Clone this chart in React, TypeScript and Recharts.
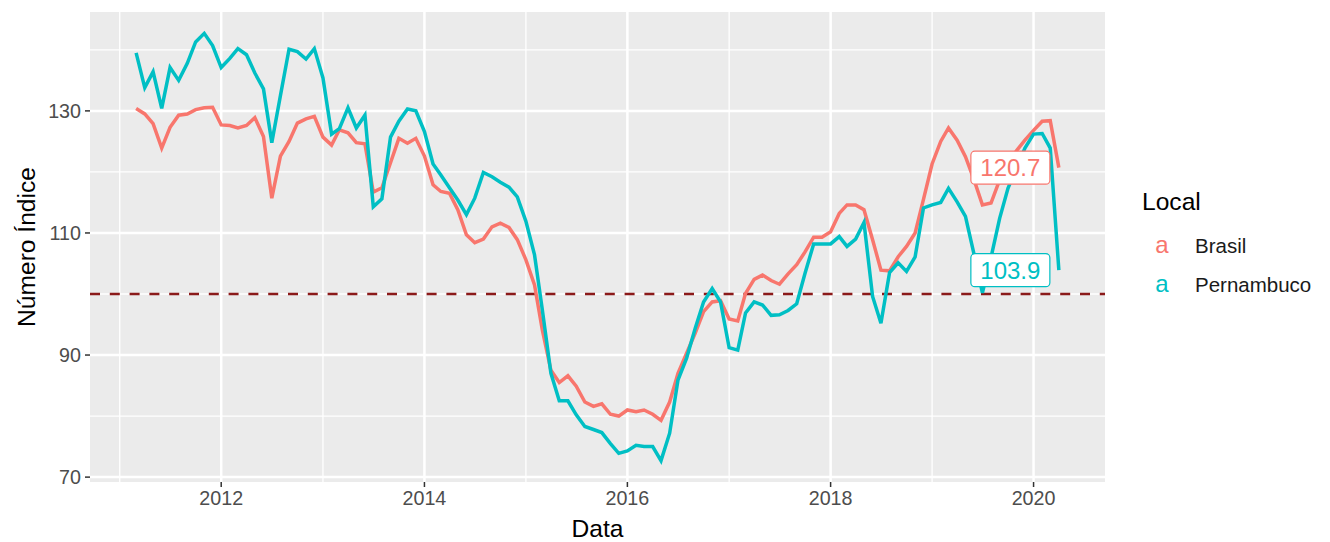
import { LineChart, Line, XAxis, YAxis, CartesianGrid, ReferenceLine } from "recharts";

// monthly series, starting 2011-03
const startYear = 2011;
const startMonth = 3;

const brasil = [
  130.4, 129.5, 127.9, 123.9, 127.3, 129.3, 129.5, 130.2, 130.5, 130.6,
  127.7, 127.6, 127.2, 127.6, 128.9, 125.8, 115.7, 122.6, 125.0, 128.0,
  128.7, 129.1, 125.7, 124.4, 126.9, 126.4, 124.8, 124.6, 116.7, 117.4,
  121.5, 125.5, 124.7, 125.5, 122.6, 117.9, 116.8, 116.5, 113.8, 109.7,
  108.4, 109.0, 111.0, 111.6, 110.9, 108.9, 105.6, 101.5, 94.1, 87.5,
  85.5, 86.6, 84.9, 82.3, 81.6, 82.0, 80.3, 80.0, 81.0, 80.7,
  81.0, 80.3, 79.3, 82.3, 87.0, 90.3, 93.6, 97.1, 98.7, 98.9,
  95.9, 95.6, 100.1, 102.4, 103.1, 102.2, 101.6, 103.3, 104.8, 106.9,
  109.3, 109.3, 110.2, 113.2, 114.6, 114.6, 113.8, 108.9, 103.9, 103.8,
  106.1, 107.8, 110.0, 115.5, 121.3, 125.0, 127.2, 125.2, 122.5, 118.7,
  114.6, 114.9, 118.7, 121.5, 123.5, 125.2, 126.8, 128.3, 128.4, 120.7,
];

const pernambuco = [
  139.5, 133.8, 136.4, 130.4, 137.1, 135.0, 137.8, 141.3, 142.7, 140.7,
  137.1, 138.6, 140.2, 139.2, 136.2, 133.6, 124.8, 132.5, 140.1, 139.7,
  138.5, 140.2, 135.4, 126.2, 127.1, 130.5, 127.2, 129.3, 114.3, 115.6,
  125.7, 128.3, 130.3, 130.0, 126.6, 121.3, 119.5, 117.4, 115.4, 113.0,
  115.7, 119.9, 119.2, 118.3, 117.5, 115.9, 111.9, 106.4, 97.4, 87.0,
  82.5, 82.5, 80.2, 78.3, 77.8, 77.3, 75.5, 73.9, 74.3, 75.2,
  75.0, 75.0, 72.7, 77.2, 85.9, 89.5, 94.4, 98.7, 100.9, 98.7,
  91.2, 90.8, 96.9, 98.7, 98.2, 96.5, 96.6, 97.3, 98.4, 103.4,
  108.2, 108.2, 108.2, 109.4, 107.8, 109.0, 111.7, 99.6, 95.2, 103.5,
  105.1, 103.7, 106.1, 114.1, 114.6, 115.0, 117.3, 115.1, 112.7, 106.5,
  100.2, 106.0, 112.4, 117.3, 120.7, 123.9, 126.2, 126.3, 123.9, 103.9,
];

const seriesNames = ["Brasil", "Pernambuco"];
const seriesColors = ["#F8766D", "#00BFC4"];
const majorYears = [2012, 2014, 2016, 2018, 2020];
const minorYears = [2011, 2013, 2015, 2017, 2019];
const yMajor = [70, 90, 110, 130];
const yMinor = [80, 100, 120, 140];
const refValue = 100;

const months = brasil.map((_, i) => Date.UTC(startYear, startMonth - 1 + i, 1));
const data = months.map((t, i) => ({ t, Brasil: brasil[i], Pernambuco: pernambuco[i] }));

// ggplot-like 5% expansion
const xr = months[months.length - 1] - months[0];
const xDomain = [months[0] - 0.05 * xr, months[months.length - 1] + 0.05 * xr];
const all = [...brasil, ...pernambuco];
const yMin = Math.min(...all);
const yMax = Math.max(...all);
const yDomain = [yMin - 0.05 * (yMax - yMin), yMax + 0.05 * (yMax - yMin)];

const yearTs = (y: number) => Date.UTC(y, 0, 1);
const FONT = "'Liberation Sans', Arial, sans-serif";

const lastLabel = (color: string) => (props: any) => {
  const { x, y, index, value } = props;
  if (index !== data.length - 1) return null;
  const w = 79;
  const h = 33;
  const right = x - 9;
  return (
    <g>
      <rect x={right - w} y={y - h / 2} width={w} height={h} rx={4} fill="#fff" stroke={color} strokeWidth={1.2} />
      <text x={right - w / 2} y={y + 8.5} textAnchor="middle" fontSize={24} fill={color} fontFamily={FONT}>
        {Number(value).toFixed(1)}
      </text>
    </g>
  );
};

export default function App() {
  return (
    <div style={{ position: "absolute", left: 0, top: 0, width: 1330, height: 542, background: "#fff", fontFamily: FONT }}>
      <LineChart width={1330} height={542} data={data} margin={{ top: 12, right: 225, bottom: 0, left: 0 }}>
        <CartesianGrid
          fill="#EBEBEB"
          stroke="#FFFFFF"
          strokeWidth={1.3}
          horizontalValues={yMinor}
          verticalValues={minorYears.map(yearTs)}
        />
        <CartesianGrid
          stroke="#FFFFFF"
          strokeWidth={2.5}
          horizontalValues={yMajor}
          verticalValues={majorYears.map(yearTs)}
        />
        <XAxis
          dataKey="t"
          type="number"
          domain={xDomain}
          allowDataOverflow
          ticks={majorYears.map(yearTs)}
          tickFormatter={(v: number) => String(new Date(v).getUTCFullYear())}
          axisLine={false}
          tickLine={{ stroke: "#333333", strokeWidth: 1.5 }}
          tickSize={5}
          tickMargin={4}
          height={60}
          tick={{ fontSize: 19.7, fill: "#4D4D4D", fontFamily: FONT }}
        />
        <YAxis
          type="number"
          domain={yDomain}
          allowDataOverflow
          ticks={yMajor}
          axisLine={false}
          tickLine={{ stroke: "#333333", strokeWidth: 1.5 }}
          tickSize={5}
          tickMargin={4}
          width={90}
          tick={{ fontSize: 19.7, fill: "#4D4D4D", fontFamily: FONT }}
        />
        <ReferenceLine y={refValue} stroke="#8B1A1A" strokeWidth={2.5} strokeDasharray="10 9.8" />
        {seriesNames.map((name, i) => (
          <Line
            key={name}
            type="linear"
            dataKey={name}
            stroke={seriesColors[i]}
            strokeWidth={3.5}
            dot={false}
            activeDot={false}
            isAnimationActive={false}
            label={lastLabel(seriesColors[i])}
          />
        ))}
      </LineChart>
      <svg width={1330} height={542} style={{ position: "absolute", left: 0, top: 0, pointerEvents: "none" }} fontFamily={FONT}>
        <text x={597.5} y={537} textAnchor="middle" fontSize={24.6} fill="#000">Data</text>
        <text x={35} y={247} textAnchor="middle" fontSize={24.6} fill="#000" transform="rotate(-90 35 247)">
          Número Índice
        </text>
        <text x={1142} y={210} fontSize={24.6} fill="#000">Local</text>
        {seriesNames.map((name, i) => (
          <g key={name}>
            <text x={1162} y={253 + i * 39} textAnchor="middle" fontSize={24} fill={seriesColors[i]}>a</text>
            <text x={1195} y={253 + i * 39} fontSize={20.5} fill="#1A1A1A">{name}</text>
          </g>
        ))}
      </svg>
    </div>
  );
}
